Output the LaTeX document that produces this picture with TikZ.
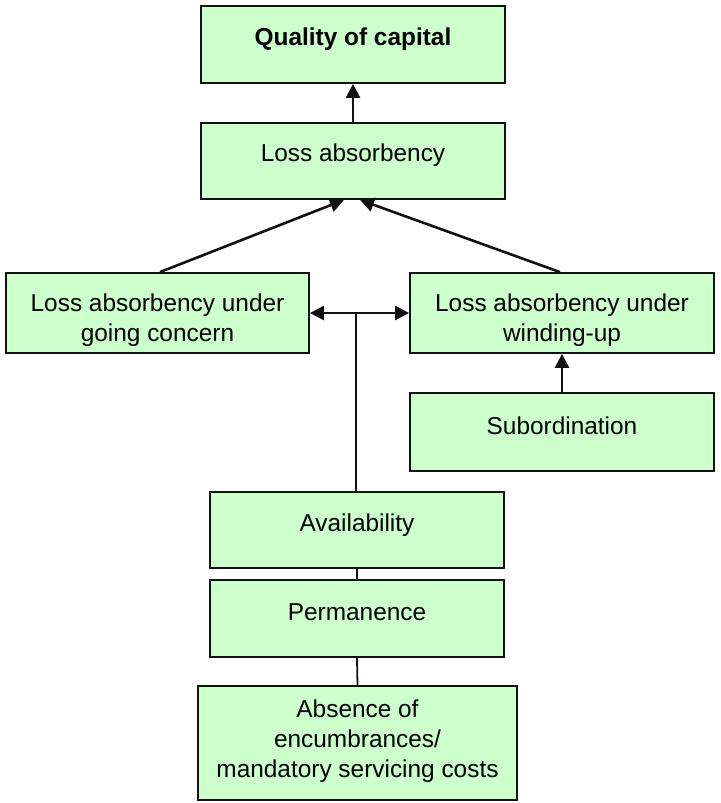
\documentclass[tikz,border=0pt]{standalone}
\usepackage{fontspec}
\setmainfont{Liberation Sans}
\usetikzlibrary{arrows.meta,calc}
\definecolor{boxfill}{HTML}{CCFFCC}
\definecolor{edge}{HTML}{111111}
\begin{document}
\begin{tikzpicture}[x=0.5pt,y=-0.5pt,
  box/.style={draw=edge,fill=boxfill,line width=0.9pt,inner sep=0pt},
  txt/.style={inner sep=0pt,align=center,font=\fontsize{12.2}{15}\selectfont},
  tip/.tip={Triangle[width=7pt,length=7pt]},
  conn/.style={draw=edge,line width=1.3pt,-tip},
  both/.style={draw=edge,line width=1.3pt,tip-tip},
  plain/.style={draw=edge,line width=1.3pt}]
\useasboundingbox (0,0) rectangle (720,803);

% boxes
\node[box,minimum width=152pt,minimum height=38.5pt] (q)   at (353,44.5) {};
\node[box,minimum width=152pt,minimum height=38pt]   (la)  at (353,161) {};
\node[box,minimum width=151.5pt,minimum height=40pt] (gc)  at (157.5,313) {};
\node[box,minimum width=152pt,minimum height=40pt]   (wu)  at (562,313) {};
\node[box,minimum width=152pt,minimum height=39pt]   (sub) at (562,432) {};
\node[box,minimum width=147pt,minimum height=38pt]   (av)  at (357,530) {};
\node[box,minimum width=147pt,minimum height=38.5pt] (pe)  at (357,618.5) {};
\node[box,minimum width=159.5pt,minimum height=57pt] (ab)  at (357.5,743) {};

% labels
\node[txt] (qt)   at (353,39)  {\bfseries Quality of capital};
\node[txt] (lat)  at (353,155) {Loss absorbency};
\node[txt] (gct)  at (157.5,320) {Loss absorbency under\\going concern};
\node[txt] (wut)  at (562,320) {Loss absorbency under\\winding-up};
\node[txt] (subt) at (562,426) {Subordination};
\node[txt] (avt)  at (357,525) {Availability};
\node[txt] (pet)  at (357,612) {Permanence};
\node[txt] (abt)  at (357.5,741) {Absence of\\encumbrances/\\mandatory servicing costs};

% connectors
\draw[conn] (la.north) -- (q.south);
\draw[conn] ($(gc.north)+(2.5,0)$) -- ($(la.south)+(-9,0)$);
\draw[conn] ($(wu.north)+(-2,0)$) -- ($(la.south)+(7,0)$);
\draw[conn] (sub.north) -- (wu.south);
\draw[both] (gc.east) -- (wu.west);
\coordinate (avtop) at ($(av.north)+(-1,0)$);
\coordinate (junction) at (avtop |- gc.east);
\draw[plain] (avtop) -- (junction);
\draw[plain,line width=0.9pt] (av.south) -- (pe.north);
\draw[plain,line width=0.9pt] (pe.south) -- (ab.north);
\end{tikzpicture}
\end{document}
